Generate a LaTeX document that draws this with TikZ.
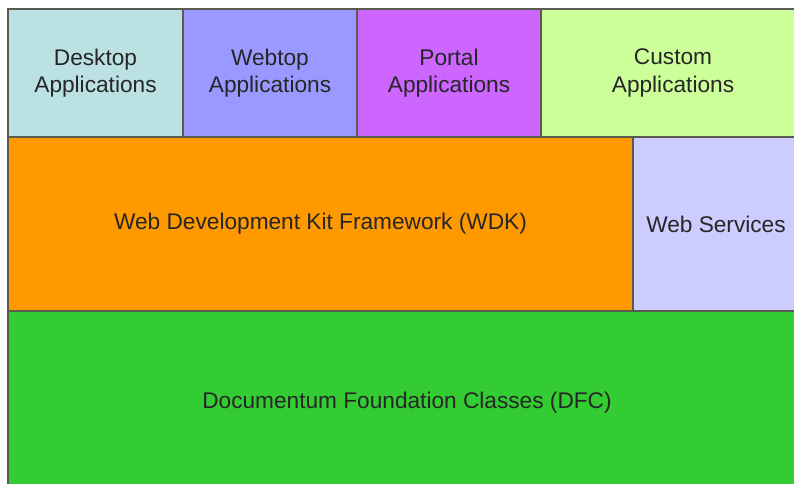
\documentclass[tikz,border=0pt]{standalone}
\usepackage{fontspec}
\setmainfont{Liberation Sans}
\usetikzlibrary{positioning}

\definecolor{deskcol}{RGB}{187,225,226}
\definecolor{webtopcol}{RGB}{153,153,255}
\definecolor{portalcol}{RGB}{204,102,255}
\definecolor{customcol}{RGB}{204,255,153}
\definecolor{wdkcol}{RGB}{255,153,0}
\definecolor{wscol}{RGB}{204,204,255}
\definecolor{dfccol}{RGB}{51,204,51}
\definecolor{edgecol}{RGB}{90,90,80}

\begin{document}
\begin{tikzpicture}
[
LayerNode/.style={rectangle, draw=edgecol, line width=0.8pt, outer sep=0pt,
inner sep=0pt, align=center, text=black!85,
font=\fontsize{17}{20.5}\selectfont},
AppNode/.style={LayerNode, minimum height=96pt},
node distance=0pt
]
\useasboundingbox (0,0) rectangle (595.5pt,-362.25pt);

\node[AppNode, fill=deskcol, minimum width=131.25pt, anchor=north west] (Desktop) at (6pt,-6.75pt) {Desktop\\Applications};
\node[AppNode, fill=webtopcol, minimum width=130.5pt] (Webtop) [right=of Desktop] {Webtop\\Applications};
\node[AppNode, fill=portalcol, minimum width=138pt] (Portal) [right=of Webtop] {Portal\\Applications};
\node[AppNode, fill=customcol, minimum width=198pt] (Custom) [right=of Portal] {Custom\\Applications};

\node[LayerNode, fill=wdkcol, minimum width=468.75pt, minimum height=130.5pt, anchor=north west] (WDK) at (Desktop.south west) {Web Development Kit Framework (WDK)};
\node[LayerNode, fill=wscol, minimum width=124.5pt, minimum height=130.5pt] (WebServices) [right=of WDK] {Web Services};

\node[LayerNode, fill=dfccol, minimum width=598.5pt, minimum height=138pt, anchor=north west] (DFC) at (WDK.south west) {Documentum Foundation Classes (DFC)};
\end{tikzpicture}
\end{document}
